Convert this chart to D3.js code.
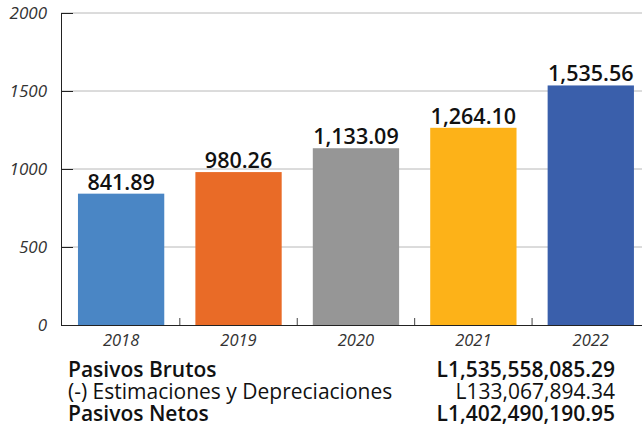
<!DOCTYPE html>
<html>
<head>
<meta charset="utf-8">
<script src="https://cdn.jsdelivr.net/npm/d3@7"></script>
<style>
body { margin: 0; background: #fff; font-family: "Open Sans", sans-serif; }
</style>
</head>
<body>
<div id="chart"></div>
<script>
var years = ["2018", "2019", "2020", "2021", "2022"];
var values = [841.89, 980.26, 1133.09, 1264.10, 1535.56];
var colors = ["#4a86c5", "#e96b27", "#969696", "#fdb218", "#3a5fab"];
var yTicks = [0, 500, 1000, 1500, 2000];
var summaryLabels = ["Pasivos Brutos", "(-) Estimaciones y Depreciaciones", "Pasivos Netos"];
var summaryValues = ["L1,535,558,085.29", "L133,067,894.34", "L1,402,490,190.95"];
var summaryBold = [true, false, true];

var W = 642, H = 430;
var margin = {top: 13, left: 61, bottom: 105};
var plotH = H - margin.top - margin.bottom;

var svg = d3.select("#chart").append("svg")
  .attr("width", W)
  .attr("height", H);

var x = d3.scaleBand()
  .domain(years)
  .range([62.7, 649.2])
  .paddingInner(0.265)
  .paddingOuter(0.13);

var y = d3.scaleLinear()
  .domain([0, 2000])
  .range([margin.top + plotH, margin.top]);

// gridlines
svg.append("g")
  .selectAll("line")
  .data(yTicks.filter(d => d > 0))
  .enter()
  .append("line")
  .attr("x1", margin.left)
  .attr("x2", W)
  .attr("y1", d => y(d))
  .attr("y2", d => y(d))
  .attr("stroke", "#b8b8b8")
  .attr("stroke-width", 1);

// bars
svg.append("g")
  .selectAll("rect")
  .data(values)
  .enter()
  .append("rect")
  .attr("x", (d, i) => x(years[i]))
  .attr("y", d => y(d))
  .attr("width", x.bandwidth())
  .attr("height", d => y(0) - y(d))
  .attr("fill", (d, i) => colors[i]);

// y axis
var yAxis = svg.append("g")
  .attr("transform", "translate(" + margin.left + ",0)")
  .call(d3.axisRight(y).tickValues(yTicks).tickSize(12).tickFormat(""));
yAxis.select(".domain").attr("stroke", "#222").attr("d", "M0.5," + y(2000) + "V" + y(0));
yAxis.selectAll(".tick line").attr("stroke", "#222");

svg.append("g")
  .selectAll("text")
  .data(yTicks)
  .enter()
  .append("text")
  .attr("x", 47)
  .attr("y", d => y(d) + 6)
  .attr("text-anchor", "end")
  .attr("font-size", "17px")
  .attr("font-style", "italic")
  .attr("fill", "#333")
  .text(d => d);

// x axis baseline and inner ticks between categories
var xAxis = svg.append("g");
xAxis.append("line")
  .attr("x1", margin.left)
  .attr("x2", W)
  .attr("y1", y(0) + 0.5)
  .attr("y2", y(0) + 0.5)
  .attr("stroke", "#222");
xAxis.selectAll("line.sep")
  .data(years.slice(1))
  .enter()
  .append("line")
  .attr("class", "sep")
  .attr("x1", d => x(d) - x.step() * x.paddingInner() / 2)
  .attr("x2", d => x(d) - x.step() * x.paddingInner() / 2)
  .attr("y1", y(0))
  .attr("y2", y(0) - 7)
  .attr("stroke", "#444");

svg.append("g")
  .selectAll("text")
  .data(years)
  .enter()
  .append("text")
  .attr("x", d => x(d) + x.bandwidth() / 2)
  .attr("y", y(0) + 21)
  .attr("text-anchor", "middle")
  .attr("font-size", "16.5px")
  .attr("font-style", "italic")
  .attr("fill", "#333")
  .text(d => d);

// value labels
svg.append("g")
  .selectAll("text")
  .data(values)
  .enter()
  .append("text")
  .attr("x", (d, i) => x(years[i]) + x.bandwidth() / 2)
  .attr("y", d => y(d) - 4)
  .attr("text-anchor", "middle")
  .attr("font-size", "21.5px")
  .attr("font-weight", 600)
  .attr("fill", "#111")
  .text(d => d3.format(",.2f")(d));

// summary table
var rows = svg.append("g");
rows.selectAll("text.lab")
  .data(summaryLabels)
  .enter()
  .append("text")
  .attr("class", "lab")
  .attr("x", 68)
  .attr("y", (d, i) => 377 + i * 22)
  .attr("font-size", "21px")
  .attr("font-weight", (d, i) => summaryBold[i] ? 600 : 400)
  .attr("fill", "#111")
  .text(d => d);
rows.selectAll("text.val")
  .data(summaryValues)
  .enter()
  .append("text")
  .attr("class", "val")
  .attr("x", 615)
  .attr("y", (d, i) => 377 + i * 22)
  .attr("text-anchor", "end")
  .attr("font-size", "21px")
  .attr("font-weight", (d, i) => summaryBold[i] ? 600 : 400)
  .attr("fill", "#111")
  .text(d => d);
</script>
</body>
</html>
